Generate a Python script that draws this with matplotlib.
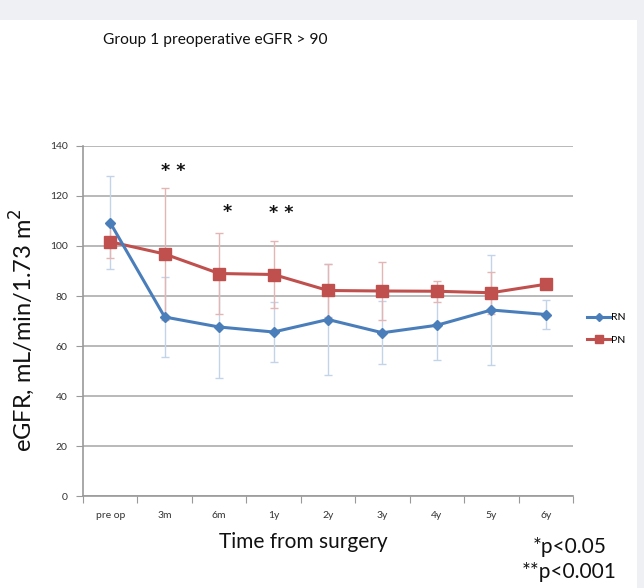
import numpy as np
import matplotlib
matplotlib.use("Agg")
import matplotlib.pyplot as plt
from matplotlib.patches import Rectangle

# data
times = ["pre op", "3m", "6m", "1y", "2y", "3y", "4y", "5y", "6y"]
rn_mean = [109.3, 71.6, 67.6, 65.6, 70.6, 65.3, 68.3, 74.4, 72.6]
rn_err = [18.6, 16.0, 20.4, 12.0, 22.2, 12.6, 14.0, 22.0, 5.9]
pn_mean = [101.7, 96.8, 89.0, 88.6, 82.2, 82.0, 81.9, 81.3, 84.7]
pn_err = [6.5, 26.5, 16.0, 13.3, 10.7, 11.5, 4.2, 8.5, 1.5]
sig_idx = [1, 2, 3]
sig_mark = ["**", "*", "**"]
sig_y = [130, 113.5, 113]

plt.rcParams['font.family'] = ['Lato', 'DejaVu Sans']

fig = plt.figure(figsize=(6.44, 5.88), dpi=100)
fig.patch.set_facecolor('#eff0f4')
# white panel behind the chart
fig.patches.append(Rectangle((0, 0), 637 / 644, 1 - 20 / 588, transform=fig.transFigure,
                             facecolor='white', edgecolor='none', zorder=-5))

ax = fig.add_axes([83 / 644, 92 / 588, 490 / 644, 350 / 588])
ax.set_facecolor('white')
x = np.arange(len(times))

blue = '#4a7ebb'
red = '#c0504d'

ax.errorbar(x, rn_mean, yerr=rn_err, fmt='none', ecolor='#c3d3e8', elinewidth=1,
            capsize=3, capthick=1, zorder=2)
ax.errorbar(x, pn_mean, yerr=pn_err, fmt='none', ecolor='#e3b5b4', elinewidth=1,
            capsize=3, capthick=1, zorder=2)
ax.plot(x, rn_mean, color=blue, lw=2.2, marker='D', ms=5.5, label='RN', zorder=4)
ax.plot(x, pn_mean, color=red, lw=2.2, marker='s', ms=8, label='PN', zorder=3)

for i, m, yv in zip(sig_idx, sig_mark, sig_y):
    ax.text(i + 0.15, yv, ' '.join(m), ha='center', va='center', fontsize=12.5,
            color='#111111', family='DejaVu Sans', fontweight='bold')

ax.set_xlim(-0.5, len(times) - 0.5)
ax.set_ylim(0, 140)
ax.set_yticks(np.arange(0, 141, 20))
ax.grid(axis='y', color='#b3b3b3', lw=1.3)
ax.set_axisbelow(True)

ax.set_xticks(np.arange(-0.5, len(times), 1))
ax.set_xticklabels([])
ax.set_xticks(x, minor=True)
ax.set_xticklabels(times, minor=True)
ax.tick_params(axis='x', which='major', length=5, color='#999999', direction='out')
ax.tick_params(axis='x', which='minor', length=0, pad=11, labelsize=7.5, labelcolor='#333333')
ax.tick_params(axis='y', length=5, color='#999999', labelsize=7.5, labelcolor='#333333', pad=6)

for s in ['top', 'right']:
    ax.spines[s].set_visible(False)
for s in ['left', 'bottom']:
    ax.spines[s].set_color('#999999')
    ax.spines[s].set_linewidth(1.2)

ax.set_xlabel('Time from surgery', fontsize=15, color='#111111')
ax.xaxis.set_label_coords(0.449, -0.104)
ax.set_ylabel('eGFR, mL/min/1.73 m$^2$', fontsize=17, color='#111111')
ax.yaxis.set_label_coords(-0.094, 0.474)

fig.text(103 / 644, 1 - 40 / 588, 'Group 1 preoperative eGFR > 90', fontsize=11.2,
         ha='left', va='center', color='#111111')

fig.legend(loc='center left', bbox_to_anchor=(583 / 644, 1 - 329 / 588), frameon=False,
           fontsize=7.5, handlelength=2.2, handletextpad=0.1, labelspacing=1.3,
           borderaxespad=0, markerscale=0.7)

fig.text(533 / 644, 1 - 547 / 588, '*p<0.05', fontsize=15, ha='left', va='center',
         color='#111111')
fig.text(522 / 644, 1 - 572 / 588, '**p<0.001', fontsize=15, ha='left', va='center',
         color='#111111')

fig.savefig('out.png', dpi=100, facecolor=fig.get_facecolor())
